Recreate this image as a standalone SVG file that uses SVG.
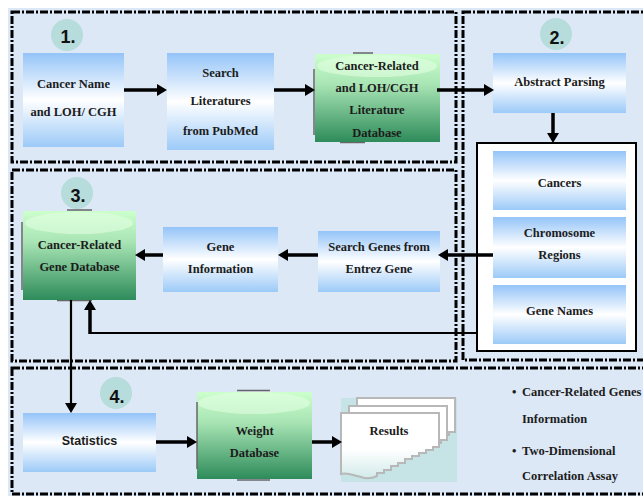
<svg xmlns="http://www.w3.org/2000/svg" width="643" height="496" viewBox="0 0 643 496">
<defs>
<style>
.t{font-family:"Liberation Serif","Times New Roman",serif;font-weight:bold;font-size:12.5px;text-anchor:middle;fill:#1c1c1c}
.tl{font-family:"Liberation Serif","Times New Roman",serif;font-weight:bold;font-size:12.5px;fill:#1c1c1c}
.s{font-family:"Liberation Sans",Arial,sans-serif;font-weight:bold;font-size:12.5px;text-anchor:middle;fill:#1c1c1c}
.num{font-family:"Liberation Sans",Arial,sans-serif;font-weight:bold;font-size:18px;text-anchor:middle;fill:#111}
.panel{fill:none;stroke:#000;stroke-width:3;stroke-dasharray:8 2 2 2}
.blue{fill:url(#bg)}
.green{fill:url(#gg)}
.circ{fill:#b6dcdc}
.edge{stroke:#666;stroke-width:1.5;fill:none}
.hl{fill:#e4ffe4;opacity:0.55}
.arr{fill:none;stroke:#000;stroke-width:3.5;marker-end:url(#ah)}
.arrt{fill:none;stroke:#000;stroke-width:2.2;marker-end:url(#ah)}
.page{fill:url(#pg);stroke:#b8b8b8;stroke-width:2}
</style>
<linearGradient id="bg" x1="0" y1="0" x2="0" y2="1">
<stop offset="0" stop-color="#94c4f8"/>
<stop offset="0.5" stop-color="#ffffff"/>
<stop offset="1" stop-color="#9ccaf8"/>
</linearGradient>
<linearGradient id="gg" x1="0" y1="0" x2="0" y2="1">
<stop offset="0" stop-color="#ccffcc"/>
<stop offset="0.35" stop-color="#a8e4b4"/>
<stop offset="1" stop-color="#2e8b5a"/>
</linearGradient>
<linearGradient id="pg" x1="0" y1="0" x2="0" y2="1">
<stop offset="0" stop-color="#ffffff"/>
<stop offset="0.55" stop-color="#ffffff"/>
<stop offset="1" stop-color="#d2eaea"/>
</linearGradient>
<marker id="ah" viewBox="0 0 10 12" refX="2" refY="6" markerWidth="10" markerHeight="12" markerUnits="userSpaceOnUse" orient="auto">
<path d="M0,0 L10,6 L0,12 z" fill="#000"/>
</marker>
<path id="pageShape" d="M0,0 H98 V34 H92 V37 H85 V40 H78 V43 H71 V46 H64 V50 H57 V53 H50 V57 H43 V60 H36 V63 Q28,67 20,64 L8,61 Q3,60 0,61 Z"/>
</defs>

<rect x="0" y="0" width="643" height="496" fill="#ffffff"/>
<rect x="8" y="8" width="635" height="488" fill="#dce8f6"/>

<g id="panels">
<rect class="panel" x="12" y="12" width="444" height="150"/>
<rect class="panel" x="463" y="12" width="190" height="348"/>
<rect class="panel" x="12" y="170" width="444" height="191"/>
<rect class="panel" x="12" y="368" width="641" height="126"/>
</g>

<g id="parse-box">
<rect x="477" y="143" width="159" height="208" fill="#ffffff" stroke="#000" stroke-width="2"/>
</g>

<g id="num1"><circle class="circ" cx="67" cy="35" r="16"/><text class="num" x="68" y="43">1.</text></g>
<g id="num2"><circle class="circ" cx="556" cy="34" r="16"/><text class="num" x="557" y="44">2.</text></g>
<g id="num3"><circle class="circ" cx="77" cy="193" r="16"/><text class="num" x="78" y="202">3.</text></g>
<g id="num4"><circle class="circ" cx="116" cy="393" r="16"/><text class="num" x="117" y="403">4.</text></g>

<g id="cancer-name">
<rect class="blue" x="23" y="53" width="101" height="94"/>
<text class="t" x="73.5" y="88">Cancer Name</text>
<text class="t" x="73.5" y="116">and LOH/ CGH</text>
</g>

<g id="search-lit">
<rect class="blue" x="167" y="53" width="107" height="97"/>
<text class="t" x="220.5" y="77">Search</text>
<text class="t" x="220.5" y="105">Literatures</text>
<text class="t" x="220.5" y="135">from PubMed</text>
</g>

<g id="lit-db">
<line class="edge" x1="353" y1="53" x2="373" y2="53"/>
<line class="edge" x1="340" y1="142.5" x2="365" y2="142.5"/>
<rect class="green" x="315" y="54" width="125" height="88"/>
<ellipse class="hl" cx="377" cy="66" rx="60" ry="11"/>
<line class="edge" x1="314" y1="69" x2="314" y2="135"/>
<text class="t" x="377" y="70">Cancer-Related</text>
<text class="t" x="377" y="92">and LOH/CGH</text>
<text class="t" x="377" y="114">Literature</text>
<text class="t" x="377" y="137">Database</text>
</g>

<g id="abstract-parsing">
<rect class="blue" x="493" y="53" width="133" height="60"/>
<text class="t" x="559.5" y="86">Abstract Parsing</text>
</g>

<g id="cancers">
<rect class="blue" x="493" y="151" width="133" height="59"/>
<text class="t" x="559.5" y="187">Cancers</text>
</g>

<g id="chromosome">
<rect class="blue" x="493" y="217" width="133" height="61"/>
<text class="t" x="559.5" y="237">Chromosome</text>
<text class="t" x="559.5" y="259">Regions</text>
</g>

<g id="gene-names">
<rect class="blue" x="493" y="285" width="133" height="59"/>
<text class="t" x="559.5" y="315">Gene Names</text>
</g>

<g id="search-genes">
<rect class="blue" x="318" y="231" width="122" height="61"/>
<text class="t" x="379" y="251">Search Genes from</text>
<text class="t" x="379" y="273">Entrez Gene</text>
</g>

<g id="gene-info">
<rect class="blue" x="163" y="227" width="115" height="65"/>
<text class="t" x="220.5" y="251">Gene</text>
<text class="t" x="220.5" y="273">Information</text>
</g>

<g id="gene-db">
<line class="edge" x1="67" y1="210" x2="92" y2="210"/>
<line class="edge" x1="57" y1="300.5" x2="92" y2="300.5"/>
<rect class="green" x="23" y="211" width="113" height="89"/>
<ellipse class="hl" cx="79" cy="223" rx="54" ry="11"/>
<line class="edge" x1="22" y1="222" x2="22" y2="290"/>
<text class="t" x="79.5" y="249">Cancer-Related</text>
<text class="t" x="79.5" y="271">Gene Database</text>
</g>

<g id="statistics">
<rect class="blue" x="23" y="413" width="133" height="59"/>
<text class="s" x="89.5" y="445">Statistics</text>
</g>

<g id="weight-db">
<line class="edge" x1="237" y1="390.5" x2="270" y2="390.5"/>
<line class="edge" x1="237" y1="480" x2="270" y2="480"/>
<rect class="green" x="197" y="392" width="115" height="87"/>
<ellipse class="hl" cx="254" cy="403" rx="56" ry="11"/>
<line class="edge" x1="197" y1="402" x2="197" y2="469"/>
<text class="t" x="254.5" y="435">Weight</text>
<text class="t" x="254.5" y="457">Database</text>
</g>

<g id="results">
<rect x="341" y="398" width="116" height="84" fill="#c6e4e6"/>
<use href="#pageShape" class="page" transform="translate(357,398)"/>
<use href="#pageShape" class="page" transform="translate(349,406)"/>
<use href="#pageShape" class="page" transform="translate(341,413)"/>
<text class="t" x="389" y="435">Results</text>
</g>

<g id="notes">
<text class="tl" x="512" y="396">•</text>
<text class="tl" x="522" y="396">Cancer-Related Genes</text>
<text class="tl" x="522" y="423">Information</text>
<text class="tl" x="512" y="455">•</text>
<text class="tl" x="522" y="455">Two-Dimensional</text>
<text class="tl" x="522" y="480">Correlation Assay</text>
</g>

<g id="connectors">
<path class="arr" d="M124,90 H159"/>
<path class="arr" d="M274,90 H307"/>
<path class="arr" d="M437,90 H486"/>
<path class="arr" d="M553,113 V135"/>
<path class="arr" d="M493,255 H446"/>
<path class="arr" d="M318,255 H286"/>
<path class="arr" d="M163,255 H143"/>
<path fill="none" stroke="#000" stroke-width="2.2" d="M477,333 H90"/>
<path class="arr" d="M90,334 V308"/>
<path class="arrt" d="M71,300 V405"/>
<path class="arr" d="M156,442 H189"/>
<path class="arr" d="M312,442 H334"/>
</g>
</svg>
